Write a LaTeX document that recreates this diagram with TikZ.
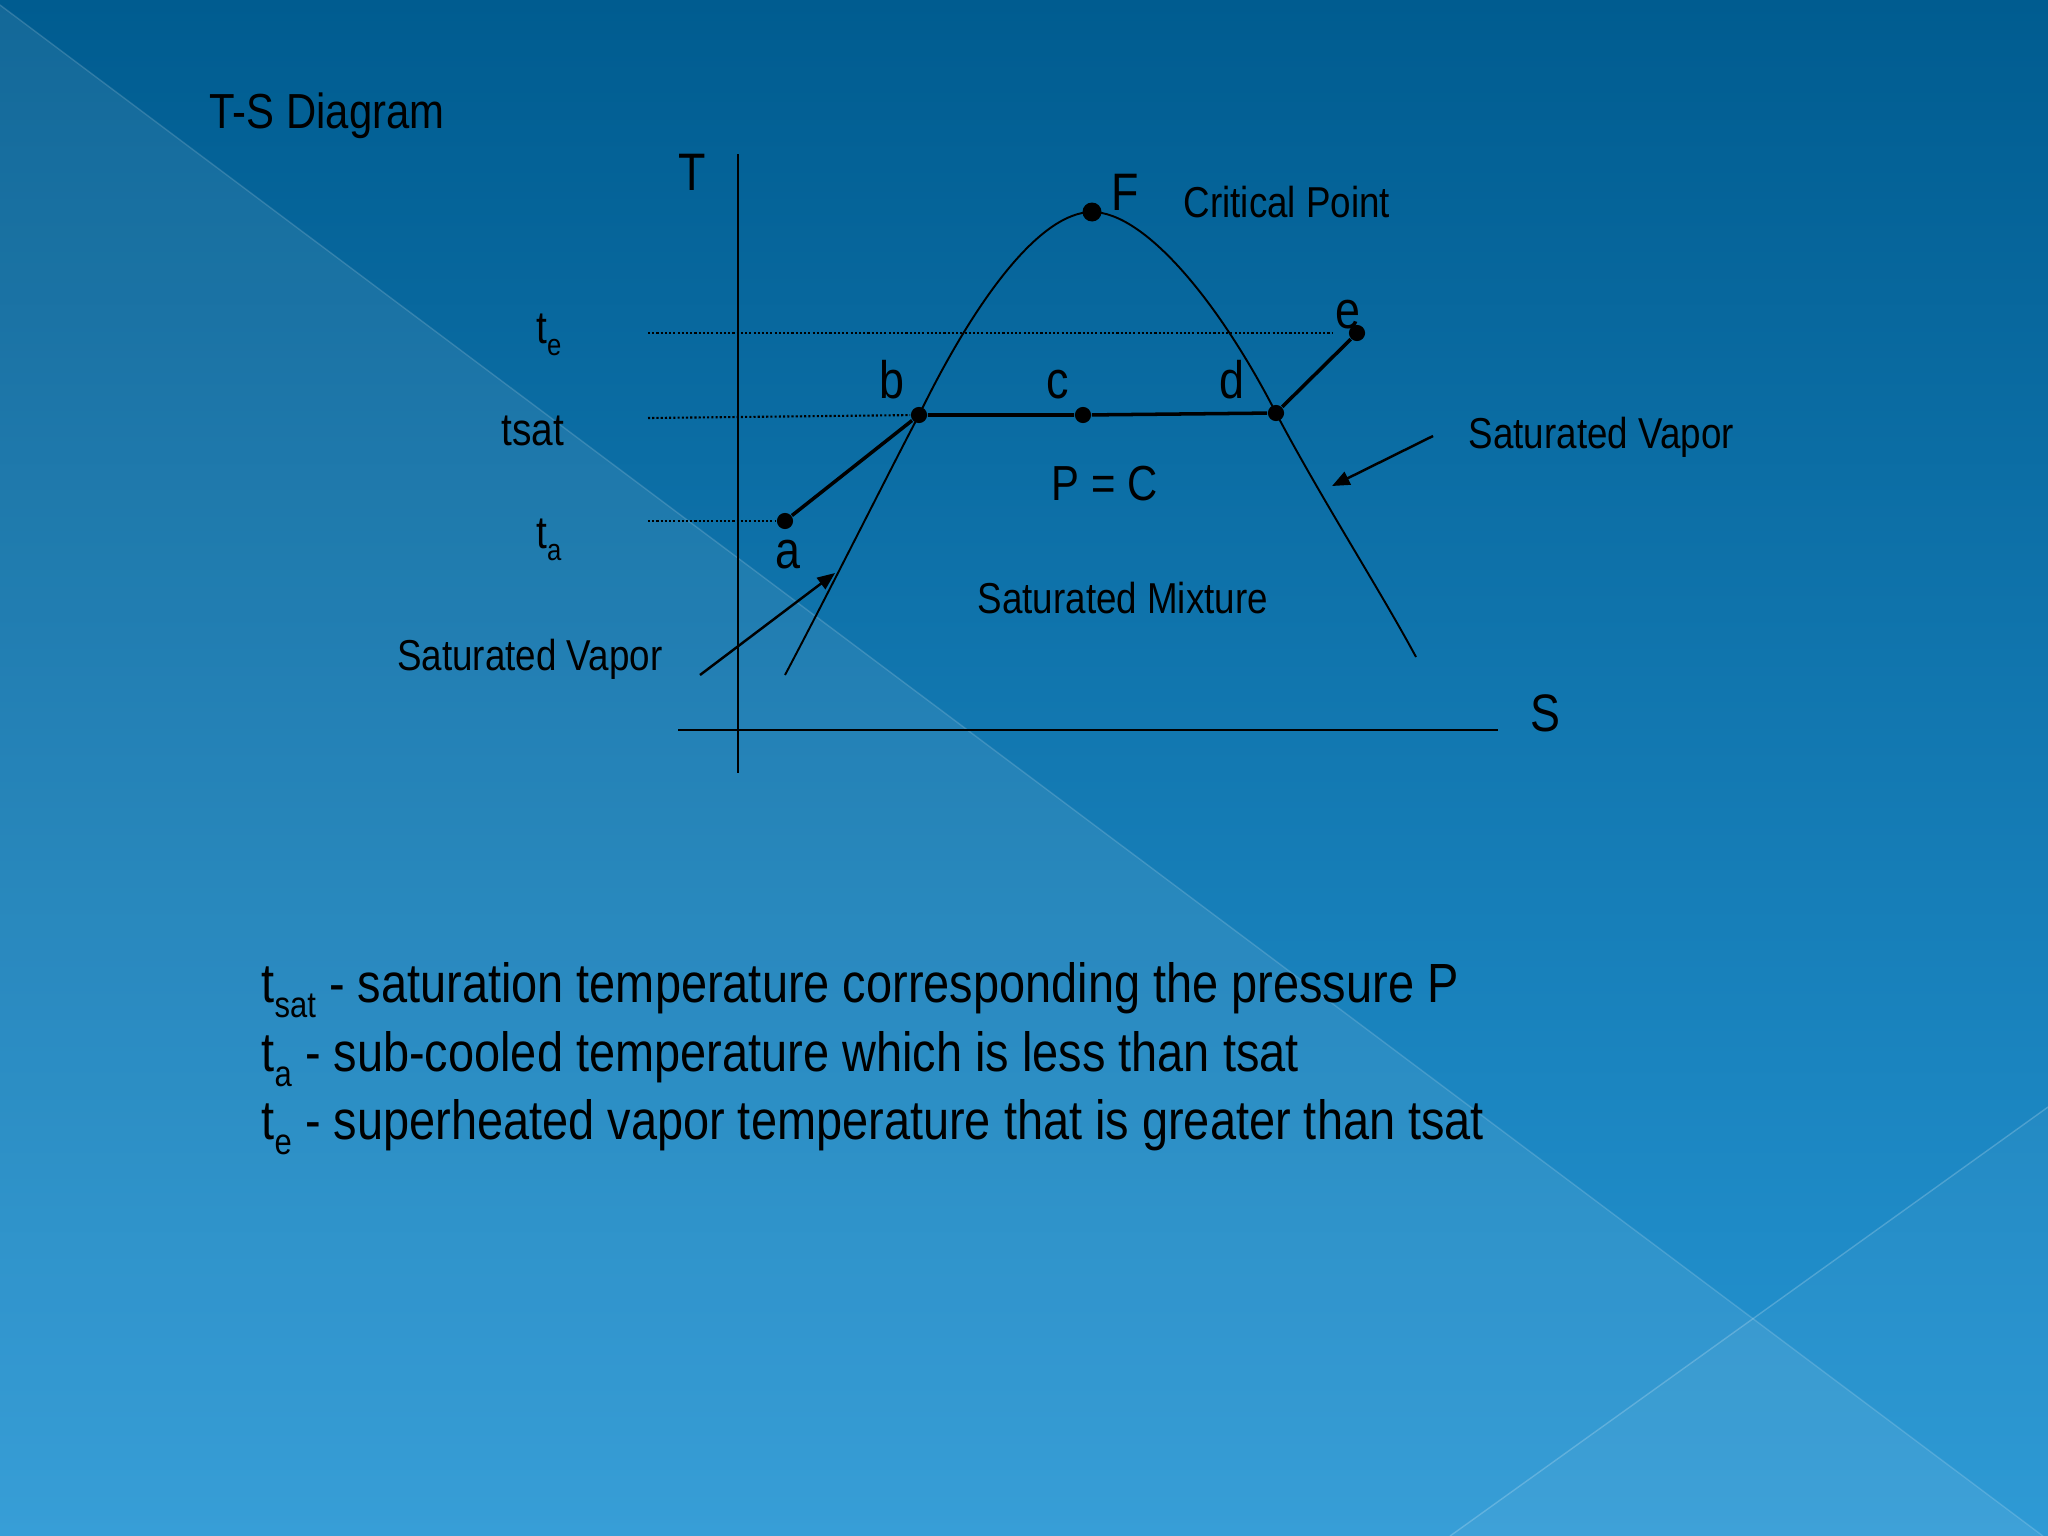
\documentclass[tikz,border=0pt]{standalone}
\usepackage{fontspec}
\setmainfont{Liberation Sans}[FakeStretch=0.85]
\usetikzlibrary{arrows.meta}

\definecolor{slidetop}{RGB}{0,92,144}
\definecolor{slidebot}{RGB}{38,150,212}
\newcommand{\subtxt}[1]{\raisebox{-0.28em}{\scalebox{0.66}{#1}}}

\begin{document}
\begin{tikzpicture}[x=0.01cm,y=-0.01cm,
  pnt/.style={circle,fill=black,inner sep=0pt,minimum size=4.6pt},
  lbl/.style={font=\fontsize{15}{18}\selectfont,inner sep=0pt},
  tk/.style={font=\fontsize{13}{16}\selectfont,inner sep=0pt,anchor=base east},
  txt/.style={font=\fontsize{12.3}{15}\selectfont,inner sep=0pt,anchor=base west},
  defn/.style={font=\fontsize{15.7}{19}\selectfont,inner sep=0pt,anchor=base west},
  axis/.style={line width=0.7pt},
  satline/.style={line width=0.55pt},
  proc/.style={line width=1pt},
  guide/.style={line width=0.6pt,dash pattern=on 0.6pt off 0.6pt},
  arr/.style={line width=0.7pt,-{Triangle[length=5pt,width=4pt]}}]
\useasboundingbox (0,0) rectangle (2048,1536);
% slide background
\shade[top color=slidetop,bottom color=slidebot] (0,0) rectangle (2048,1536);
\fill[white,opacity=0.08] (0,5) -- (2043,1536) -- (0,1536) -- cycle;
\fill[white,opacity=0.04] (1450,1536) -- (2048,1107) -- (2048,1536) -- cycle;
\draw[white,opacity=0.15,line width=0.4pt] (0,5) -- (2043,1536);
\draw[white,opacity=0.2,line width=0.4pt] (1450,1536) -- (2048,1107);

\node[font=\fontsize{14}{17}\selectfont,inner sep=0pt,anchor=base west] (title) at (209,128) {T-S Diagram};

% axes
\coordinate (ttop) at (738,154);
\coordinate (tbot) at (738,773);
\coordinate (sl) at (678,730);
\coordinate (sr) at (1498,730);
\draw[axis] (ttop) -- (tbot);
\draw[axis] (sl) -- (sr);
\node[lbl] (tlab) at (692,172) {T};
\node[lbl] (slab) at (1545,713) {S};

% state points
\node[pnt] (a) at (785,521) {};
\node[pnt] (b) at (919,415) {};
\node[pnt] (c) at (1083,415) {};
\node[pnt] (d) at (1276,413) {};
\node[pnt] (e) at (1357,333) {};
\node[pnt,minimum size=5.4pt] (f) at (1092,212) {};

% saturation dome
\coordinate (liq) at (785,675);
\coordinate (vap) at (1416,657);
\draw[satline] (liq) .. controls (830,590) and (890,470) .. (b.center)
  .. controls (975,300) and (1040,212) .. (f.center)
  .. controls (1144,212) and (1218,300) .. (d.center)
  .. controls (1322,500) and (1380,590) .. (vap);

% process a-b-c-d-e
\draw[proc] (a) -- (b) -- (c) -- (d) -- (e);

% temperature levels
\coordinate (gte) at (648,333);
\coordinate (gts) at (648,418);
\coordinate (gta) at (648,521);
\coordinate (gend) at (1332,333);
\draw[guide] (gte) -- (gend);
\draw[guide] (gts) -- (b);
\draw[guide] (gta) -- (a);
\node[tk] (te) at (562,343) {t\subtxt{e}};
\node[tk] (tsat) at (565,445) {tsat};
\node[tk] (ta) at (562,548) {t\subtxt{a}};

\node[lbl,anchor=base] (alab) at (788,568) {a};
\node[lbl,anchor=base] (blab) at (892,398) {b};
\node[lbl,anchor=base] (clab) at (1058,398) {c};
\node[lbl,anchor=base] (dlab) at (1232,398) {d};
\node[lbl,anchor=base] (elab) at (1348,328) {e};
\node[lbl,anchor=base] (flab) at (1125,210) {F};

\node[txt] (crit) at (1183,217) {Critical Point};
\node[txt,font=\fontsize{14}{17}\selectfont] (pc) at (1051,500) {P = C};
\node[txt] (mix) at (977,613) {Saturated Mixture};
\node[txt,anchor=base east] (vapl) at (663,670) {Saturated Vapor};
\node[txt] (vapr) at (1468,448) {Saturated Vapor};

% pointers
\coordinate (lt) at (700,675);
\coordinate (lh) at (835,573);
\coordinate (rt) at (1433,436);
\coordinate (rh) at (1332,486);
\draw[arr] (lt) -- (lh);
\draw[arr] (rt) -- (rh);

% definitions
\node[defn] (def1) at (261,1002) {t\subtxt{sat} - saturation temperature corresponding the pressure P};
\node[defn] (def2) at (261,1071) {t\subtxt{a} - sub-cooled temperature which is less than tsat};
\node[defn] (def3) at (261,1139) {t\subtxt{e} - superheated vapor temperature that is greater than tsat};
\end{tikzpicture}
\end{document}
